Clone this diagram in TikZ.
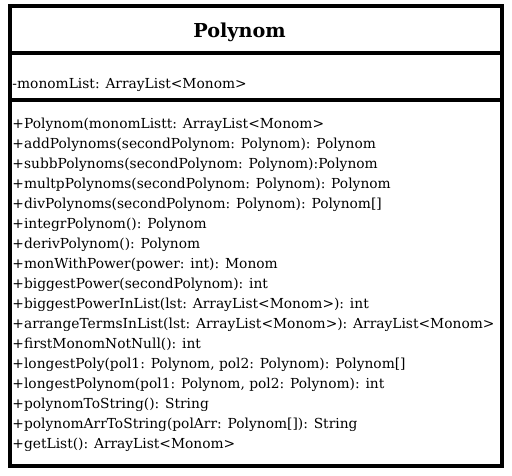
\documentclass[tikz,border=0pt]{standalone}
\usepackage{fontspec}
\setmainfont{DejaVu Serif}
\begin{document}
\begin{tikzpicture}[x=1pt,y=-1pt,
  classframe/.style={draw=black,line width=4pt},
  member/.style={anchor=base west,inner sep=0pt,font=\fontsize{13.8}{16}\selectfont,text=black},
  classname/.style={anchor=base,inner sep=0pt,font=\fontsize{19.2}{22}\selectfont\bfseries}]
\useasboundingbox (0,0) rectangle (512,475);
% class frame and compartment separators
\draw[classframe] (10,6) rectangle (502,466);
\draw[classframe] (10,53) -- (502,53);
\draw[classframe] (10,100) -- (502,100);
% class name
\node[classname] (title) at (239.5,37.5) {Polynom};
% attribute
\node[member] (attr) at (12.3,88) {-monomList: ArrayList<Monom>};
% operations
\foreach \txt [count=\i] in {
  {+Polynom(monomListt: ArrayList<Monom>},
  {+addPolynoms(secondPolynom: Polynom): Polynom},
  {+subbPolynoms(secondPolynom: Polynom):Polynom},
  {+multpPolynoms(secondPolynom: Polynom): Polynom},
  {+divPolynoms(secondPolynom: Polynom): Polynom[]},
  {+integrPolynom(): Polynom},
  {+derivPolynom(): Polynom},
  {+monWithPower(power: int): Monom},
  {+biggestPower(secondPolynom): int},
  {+biggestPowerInList(lst: ArrayList<Monom>): int},
  {+arrangeTermsInList(lst: ArrayList<Monom>): ArrayList<Monom>},
  {+firstMonomNotNull(): int},
  {+longestPoly(pol1: Polynom, pol2: Polynom): Polynom[]},
  {+longestPolynom(pol1: Polynom, pol2: Polynom): int},
  {+polynomToString(): String},
  {+polynomArrToString(polArr: Polynom[]): String},
  {+getList(): ArrayList<Monom>}}
  \node[member] (op\i) at (12.3,{108+20*\i}) {\txt};
\end{tikzpicture}
\end{document}
